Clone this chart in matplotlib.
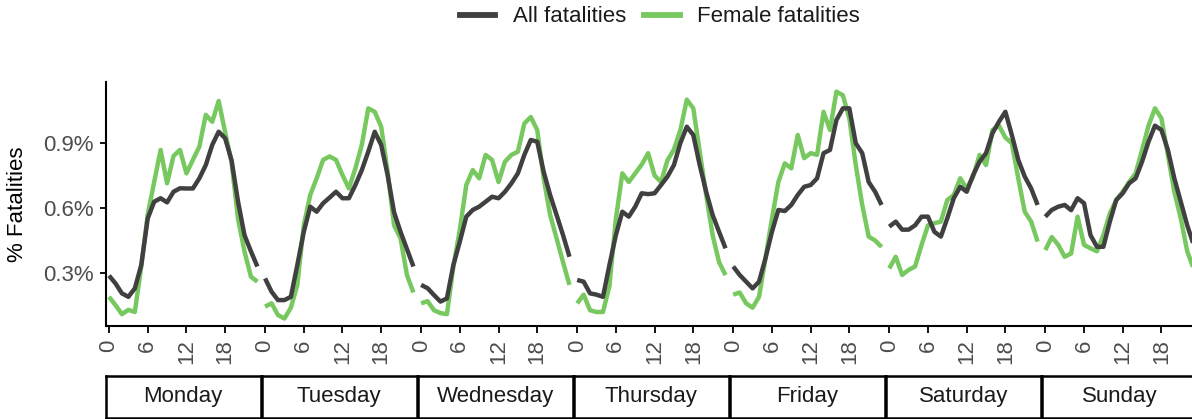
import matplotlib
matplotlib.use('Agg')
import matplotlib.pyplot as plt
from matplotlib.lines import Line2D

plt.rcParams['font.family'] = ['Liberation Sans', 'DejaVu Sans']

# Hourly share of fatalities (%) per weekday
hours = list(range(24))
days = ['Monday', 'Tuesday', 'Wednesday', 'Thursday', 'Friday', 'Saturday', 'Sunday']

all_monday = [0.288, 0.252, 0.206, 0.19, 0.229, 0.337, 0.552, 0.629, 0.645, 0.626, 0.675, 0.691,
              0.69, 0.69, 0.737, 0.798, 0.891, 0.952, 0.922, 0.82, 0.63, 0.475, 0.40, 0.33]
all_tuesday = [0.275, 0.214, 0.175, 0.175, 0.19, 0.337, 0.49, 0.606, 0.583, 0.622, 0.648, 0.675,
               0.645, 0.645, 0.706, 0.775, 0.86, 0.952, 0.891, 0.752, 0.58, 0.49, 0.41, 0.33]
all_wednesday = [0.245, 0.23, 0.198, 0.168, 0.183, 0.337, 0.445, 0.56, 0.591, 0.606, 0.629, 0.652,
                 0.645, 0.675, 0.714, 0.76, 0.845, 0.914, 0.906, 0.767, 0.66, 0.568, 0.475, 0.375]
all_thursday = [0.268, 0.26, 0.206, 0.2, 0.19, 0.337, 0.475, 0.583, 0.56, 0.606, 0.668, 0.664,
                0.668, 0.706, 0.745, 0.798, 0.9, 0.975, 0.937, 0.798, 0.675, 0.568, 0.49, 0.414]
all_friday = [0.33, 0.291, 0.26, 0.229, 0.26, 0.368, 0.49, 0.591, 0.586, 0.614, 0.66, 0.698,
              0.706, 0.737, 0.853, 0.868, 1.006, 1.06, 1.06, 0.899, 0.853, 0.72, 0.675, 0.614]
all_saturday = [0.514, 0.537, 0.5, 0.5, 0.52, 0.56, 0.56, 0.49, 0.468, 0.553, 0.645, 0.698,
                0.675, 0.752, 0.814, 0.853, 0.945, 0.998, 1.044, 0.937, 0.822, 0.745, 0.69, 0.614]
all_sunday = [0.56, 0.591, 0.606, 0.614, 0.59, 0.645, 0.622, 0.475, 0.421, 0.421, 0.537, 0.637,
              0.668, 0.714, 0.737, 0.814, 0.906, 0.98, 0.96, 0.868, 0.737, 0.629, 0.52, 0.43]

female_monday = [0.19, 0.152, 0.11, 0.13, 0.12, 0.33, 0.57, 0.72, 0.868, 0.714, 0.84, 0.868,
                 0.76, 0.822, 0.883, 1.03, 0.998, 1.094, 0.95, 0.81, 0.55, 0.40, 0.283, 0.26]
female_tuesday = [0.145, 0.16, 0.106, 0.09, 0.14, 0.245, 0.52, 0.66, 0.737, 0.822, 0.838, 0.822,
                  0.752, 0.69, 0.783, 0.891, 1.06, 1.044, 0.975, 0.767, 0.52, 0.46, 0.29, 0.21]
female_wednesday = [0.16, 0.17, 0.128, 0.115, 0.11, 0.33, 0.5, 0.706, 0.775, 0.737, 0.845, 0.822,
                    0.72, 0.814, 0.845, 0.86, 0.99, 1.02, 0.96, 0.737, 0.568, 0.46, 0.35, 0.245]
female_thursday = [0.16, 0.2, 0.128, 0.12, 0.12, 0.24, 0.55, 0.76, 0.72, 0.76, 0.80, 0.853,
                   0.75, 0.72, 0.82, 0.87, 0.96, 1.10, 1.06, 0.86, 0.66, 0.475, 0.35, 0.29]
female_friday = [0.2, 0.21, 0.16, 0.14, 0.19, 0.368, 0.55, 0.72, 0.806, 0.783, 0.937, 0.83,
                 0.853, 0.845, 1.044, 0.96, 1.137, 1.12, 1.014, 0.798, 0.614, 0.468, 0.45, 0.42]
female_saturday = [0.321, 0.375, 0.291, 0.314, 0.33, 0.429, 0.52, 0.53, 0.537, 0.637, 0.66, 0.737,
                   0.69, 0.745, 0.845, 0.798, 0.96, 0.98, 0.925, 0.899, 0.737, 0.583, 0.537, 0.445]
female_sunday = [0.406, 0.466, 0.43, 0.375, 0.39, 0.56, 0.43, 0.414, 0.4, 0.475, 0.575, 0.637,
                 0.675, 0.72, 0.76, 0.868, 0.98, 1.06, 1.014, 0.845, 0.675, 0.552, 0.4, 0.32]

all_by_day = [all_monday, all_tuesday, all_wednesday, all_thursday, all_friday, all_saturday, all_sunday]
female_by_day = [female_monday, female_tuesday, female_wednesday, female_thursday,
                 female_friday, female_saturday, female_sunday]

y_ticks = [0.3, 0.6, 0.9]
y_tick_labels = ['0.3%', '0.6%', '0.9%']
x_ticks = [0, 6, 12, 18]

ALL_COLOR = '#404040'
FEMALE_COLOR = '#78C860'
TEXT_GREY = '#4D4D4D'
FS = 16
LW = 3.2

W, H = 1192, 419
fig = plt.figure(figsize=(W / 100, H / 100), dpi=100)

# panel geometry in pixels
panel_left = 105.8
panel_step = 156.05
panel_w = 154.8
panel_top, panel_bottom = 82, 326
strip_top, strip_bottom = 375.5, 418

for i, day in enumerate(days):
    left = panel_left + i * panel_step
    ax = fig.add_axes([left / W, 1 - panel_bottom / H, panel_w / W, (panel_bottom - panel_top) / H])
    ax.plot(hours, female_by_day[i], color=FEMALE_COLOR, lw=LW, solid_joinstyle='round',
            solid_capstyle='butt')
    ax.plot(hours, all_by_day[i], color=ALL_COLOR, lw=LW, solid_joinstyle='round',
            solid_capstyle='butt')
    ax.set_xlim(-0.5, 23.5)
    ax.set_ylim(0.0554, 1.1815)

    for s in ['top', 'right']:
        ax.spines[s].set_visible(False)
    ax.spines['bottom'].set_linewidth(1.5)
    ax.spines['left'].set_linewidth(1.5)

    ax.set_xticks(x_ticks)
    ax.set_xticklabels([str(t) for t in x_ticks], rotation=90, color=TEXT_GREY, fontsize=FS)
    ax.tick_params(axis='x', length=5, width=1.3, pad=4.5)

    if i == 0:
        ax.set_yticks(y_ticks)
        ax.set_yticklabels(y_tick_labels, color=TEXT_GREY, fontsize=FS)
        ax.tick_params(axis='y', length=4.5, width=1.3, pad=4.5)
    else:
        ax.spines['left'].set_visible(False)
        ax.set_yticks([])

    # strip label under each panel
    sax = fig.add_axes([left / W, 1 - strip_bottom / H, panel_w / W, (strip_bottom - strip_top) / H])
    sax.set_xticks([])
    sax.set_yticks([])
    for s in sax.spines.values():
        s.set_linewidth(1.8)
        s.set_color('black')
    sax.text(0.5, 0.5, day, ha='center', va='center', fontsize=FS, color='#1A1A1A',
             transform=sax.transAxes)

fig.text(18 / W, 1 - 204 / H, '% Fatalities', rotation=90, ha='center', va='center',
         fontsize=FS, color='black')

handles = [Line2D([], [], color=ALL_COLOR, lw=LW + 1), Line2D([], [], color=FEMALE_COLOR, lw=LW + 1)]
fig.legend(handles, ['All fatalities', 'Female fatalities'], loc='center',
           bbox_to_anchor=(660 / W, 1 - 17 / H), ncol=2, frameon=False, fontsize=FS,
           handlelength=1.6, handletextpad=0.8, columnspacing=0.8, labelcolor='#1A1A1A')

fig.savefig('out.png', dpi=100)
